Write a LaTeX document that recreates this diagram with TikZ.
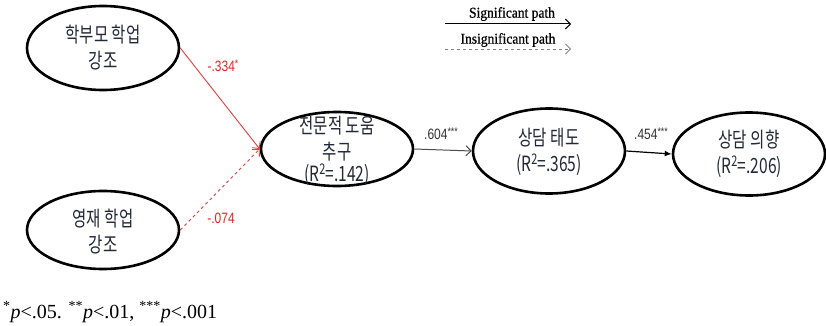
\documentclass[tikz,border=0pt]{standalone}
\usepackage{fontspec}
\setmainfont{Liberation Serif}
\newfontfamily\krfont[FakeStretch=0.74]{Noto Sans CJK KR}
\newfontfamily\labfont[FakeStretch=0.8]{Liberation Sans}
\newfontfamily\legfont[FakeStretch=0.9,FakeBold=0.6]{Liberation Serif}
\usetikzlibrary{shapes.geometric,arrows.meta}
\definecolor{pathred}{RGB}{225,60,60}
\definecolor{labred}{RGB}{240,30,30}
\definecolor{ktxt}{RGB}{35,40,55}
\newcommand{\sigstar}[1]{\raisebox{4pt}{\fontsize{11}{11}\selectfont #1}}
\begin{document}
\begin{tikzpicture}[x=1pt,y=-1pt,
  latent/.style={ellipse,draw,line width=2.6pt,inner sep=0pt,minimum width=152pt},
  ktext/.style={font=\krfont\fontsize{21}{26}\selectfont,align=center,text=ktxt,inner sep=0pt},
  plab/.style={font=\labfont\fontsize{15}{16}\selectfont,inner sep=0pt},
  legtext/.style={font=\legfont\fontsize{15}{16}\selectfont,inner sep=0pt},
  chev/.style={-{Straight Barb[length=5pt,width=10pt]}}
]
\useasboundingbox (0,0) rectangle (826,326);

% latent variables
\node[latent,minimum height=84pt] (e1) at (103,48) {};
\node[ktext] (t1) at (103,48) {학부모 학업\\강조};
\node[latent,minimum height=78pt] (e2) at (103,230) {};
\node[ktext] (t2) at (103,232) {영재 학업\\강조};
\node[latent,minimum height=74pt] (e3) at (337,149) {};
\node[ktext] (t3) at (337,151) {전문적 도움\\추구\\[-4pt](R\textsuperscript{2}=.142)};
\node[latent,minimum height=85pt] (e4) at (549,151) {};
\node[ktext] (t4) at (549,152) {상담 태도\\(R\textsuperscript{2}=.365)};
\node[latent,minimum height=83pt] (e5) at (749,154) {};
\node[ktext] (t5) at (749,154) {상담 의향\\(R\textsuperscript{2}=.206)};

% paths
\draw[pathred,line width=0.9pt,chev] (e1.east) -- (e3.west);
\draw[pathred,line width=0.9pt,dashed,chev] (e2.east) -- (e3.west);
\draw[black!70,line width=1pt,chev] (e3.east) -- (e4.west);
\draw[black,line width=1.2pt,-{Latex[length=7pt,width=6pt]}] (e4.east) -- (e5.west);

% path labels
\node[plab,text=labred] (l1) at (223,66) {-.334\sigstar{*}};
\node[plab,text=labred] (l2) at (221,218) {-.074};
\node[plab,text=black!80] (l3) at (441,134) {.604\sigstar{***}};
\node[plab,text=black!80] (l4) at (651,134) {.454\sigstar{***}};

% legend
\coordinate (s1) at (445,24);
\coordinate (s2) at (571,24);
\draw[line width=1pt,chev] (s1) -- (s2);
\node[legtext] (ls) at (512,14) {Significant path};
\coordinate (i1) at (445,49);
\coordinate (i2) at (571,49);
\draw[gray,dashed,line width=0.8pt,chev] (i1) -- (i2);
\node[legtext] (li) at (508,40) {Insignificant path};

% footnote
\node[anchor=base west,font=\fontsize{20}{24}\selectfont,inner sep=0pt] (fn) at (3,318)
  {\textsuperscript{*}\textit{p}<.05. \textsuperscript{**}\textit{p}<.01, \textsuperscript{***}\textit{p}<.001};
\end{tikzpicture}
\end{document}
